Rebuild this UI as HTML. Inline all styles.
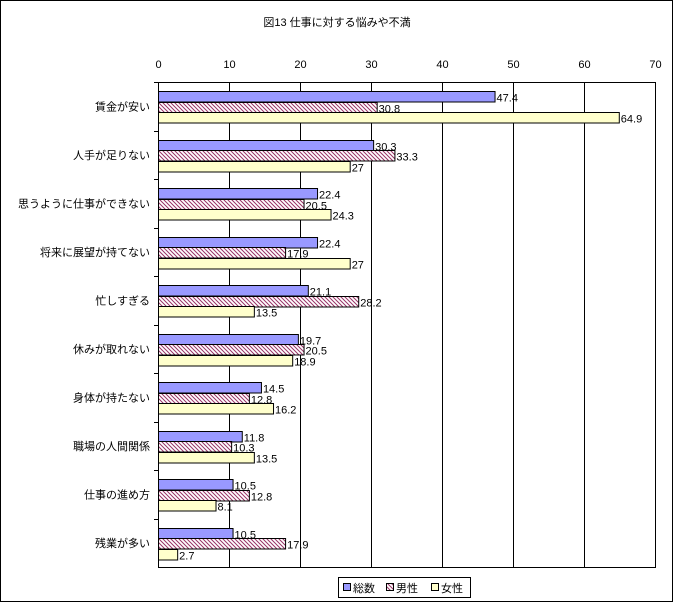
<!DOCTYPE html>
<html><head><meta charset="utf-8"><style>
body{margin:0;background:#fff}
text{font-family:"Liberation Sans","Noto Sans CJK JP",sans-serif;font-size:11px;fill:#000}
</style></head><body>
<svg id="c" width="674" height="603" xmlns="http://www.w3.org/2000/svg">
<defs><pattern id="hatch" width="4" height="4" patternUnits="userSpaceOnUse"><rect width="4" height="4" fill="#fff"/><path d="M-1,-1 L5,5 M-1,3 L1,5 M3,-1 L5,1" stroke="#993366" stroke-width="1"/></pattern></defs>
<rect x="0.5" y="0.5" width="672" height="601" fill="#fff" stroke="#000"/>
<text x="337" y="26" text-anchor="middle" font-size="12">図13 仕事に対する悩みや不満</text>
<g id="plot"></g>
<g>
<rect x="338.5" y="577.5" width="132" height="20" fill="#fff" stroke="#000"/>
<rect x="343.5" y="583.5" width="7" height="7" fill="#9999ff" stroke="#000"/>
<text x="353" y="592" font-size="12">総数</text>
<rect x="386.5" y="583.5" width="7" height="7" fill="url(#hatch)" stroke="#000"/>
<text x="396" y="592" font-size="12">男性</text>
<rect x="431.5" y="583.5" width="7" height="7" fill="#ffffcc" stroke="#000"/>
<text x="441" y="592" font-size="12">女性</text>
</g>
</svg>
<script>
const categories=["賃金が安い","人手が足りない","思うように仕事ができない","将来に展望が持てない","忙しすぎる","休みが取れない","身体が持たない","職場の人間関係","仕事の進め方","残業が多い"];
const total=[47.4,30.3,22.4,22.4,21.1,19.7,14.5,11.8,10.5,10.5];
const male=[30.8,33.3,20.5,17.9,28.2,20.5,12.8,10.3,12.8,17.9];
const female=[64.9,27,24.3,27,13.5,18.9,16.2,13.5,8.1,2.7];
const ticks=[0,10,20,30,40,50,60,70];
const X0=158,X1=655,Y0=82,Y1=567,MAX=70;
const xs=v=>X0+(X1-X0)*v/MAX;
const pitch=(Y1-Y0)/categories.length;
const NS="http://www.w3.org/2000/svg";
const g=document.getElementById('plot');
function mk(t,a){const e=document.createElementNS(NS,t);for(const k in a)e.setAttribute(k,a[k]);g.appendChild(e);return e;}
ticks.forEach(t=>{
 const x=Math.round(xs(t))+0.5;
 const l=mk('line',{x1:x,x2:x,y1:Y0,y2:Y1,stroke:'#000'});
 
 
 const tx=mk('text',{x:x,y:68,'text-anchor':'middle'});tx.textContent=t;
 
 
});
const series=[[total,'#9999ff','total'],[male,'url(#hatch)','male'],[female,'#ffffcc','female']];
categories.forEach((c,i)=>{
 const gy=Y0+i*pitch;
 const tk=mk('line',{x1:X0-4,x2:X0,y1:Math.round(gy)+0.5,y2:Math.round(gy)+0.5,stroke:'#000'});
 
 
 const lb=mk('text',{x:150,y:gy+pitch/2+4,'text-anchor':'end'});lb.textContent=c;
 
 
 series.forEach((s,j)=>{
  const v=s[0][i];const y=Math.round(gy+9+j*10.7)+0.5;
  const r=mk('rect',{x:X0+0.5,y:y,width:Math.max(0,xs(v)-X0),height:10.5,fill:s[1],stroke:'#000'});
  
  
  const t=mk('text',{x:xs(v)+2,y:y+10});t.textContent=v;
  
  
 });
});
mk('rect',{x:X0+0.5,y:Y0+0.5,width:X1-X0,height:Y1-Y0,fill:'none',stroke:'#000'});
</script>
</body></html>
